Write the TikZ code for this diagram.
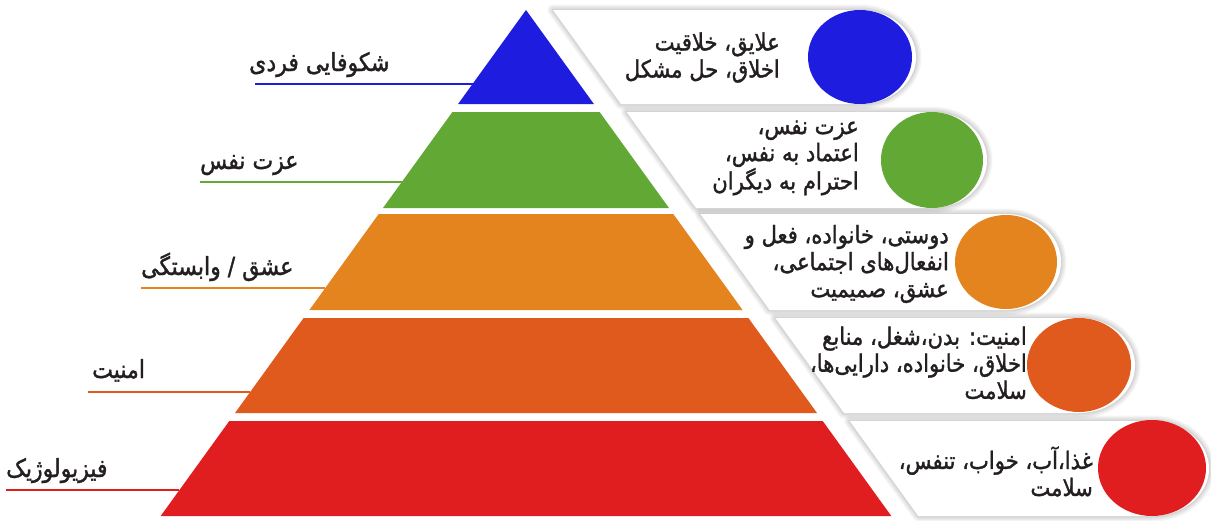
\documentclass[tikz,border=0pt]{standalone}
\usepackage{fontspec}
\TeXXeTstate=1
\newfontfamily\arabicfont[Script=Arabic,FakeBold=1.4,FakeStretch=0.88]{DejaVu Sans}

\definecolor{lvlblue}{RGB}{30,28,222}
\definecolor{lvlgreen}{RGB}{98,168,52}
\definecolor{lvlorange}{RGB}{227,132,31}
\definecolor{lvlrust}{RGB}{224,90,30}
\definecolor{lvlred}{RGB}{224,30,32}
\definecolor{ink}{RGB}{35,31,32}

\begin{document}
\begin{tikzpicture}[x=1pt,y=-1pt,
  softedge/.style={draw=black, draw opacity=0.045, line join=round, line width=#1},
  panel/.style={fill=white,
      preaction={softedge=11pt}, preaction={softedge=8pt},
      preaction={softedge=5pt}, preaction={softedge=2.5pt}},
  lead/.style={line width=2.6pt},
  lbl/.style={font=\arabicfont\fontsize{25}{28}\selectfont, text=ink,
      inner sep=0pt, anchor=base west},
  info/.style={font=\arabicfont\fontsize{24}{27}\selectfont, text=ink,
      align=right, anchor=east, inner sep=0pt}]

% canvas
\useasboundingbox (0,0) rectangle (1211,520);
\fill[white] (0,0) rectangle (1211,520);

% ---- white side panels, slanted along the pyramid, rounded round the dot ----
\path[panel] (553,10)    -- (860,10)
  arc[start angle=90, end angle=-90, x radius=56pt, y radius=47pt] -- (621,104) -- cycle;
\path[panel] (626.6,112) -- (932,112)
  arc[start angle=90, end angle=-90, x radius=55pt, y radius=48pt] -- (696,208) -- cycle;
\path[panel] (700.3,214) -- (1006,214)
  arc[start angle=90, end angle=-90, x radius=55pt, y radius=48pt] -- (769.6,310) -- cycle;
\path[panel] (775.4,318) -- (1079,318)
  arc[start angle=90, end angle=-90, x radius=56pt, y radius=47.5pt] -- (844,413) -- cycle;
\path[panel] (849.7,421) -- (1152,421)
  arc[start angle=90, end angle=-90, x radius=57pt, y radius=47.5pt] -- (918.3,516) -- cycle;

% ---- colour dots at the panel ends ----
\fill[lvlblue]   (860,57)   ellipse [x radius=52pt, y radius=47pt];
\fill[lvlgreen]  (932,160)  ellipse [x radius=51pt, y radius=48pt];
\fill[lvlorange] (1006,262) ellipse [x radius=51pt, y radius=47pt];
\fill[lvlrust]   (1079,365) ellipse [x radius=52pt, y radius=47pt];
\fill[lvlred]    (1152,468) ellipse [x radius=54pt, y radius=48pt];

% ---- panel texts ----
\node[info] (i1) at (780,57.5)
  {\beginR علایق، خلاقیت\endR\\ \beginR اخلاق، حل مشکل\endR};
\node[info] (i2) at (859,158)
  {\beginR عزت نفس،\endR\\ \beginR اعتماد به نفس،\endR\\ \beginR احترام به دیگران\endR};
\node[info] (i3) at (949,264)
  {\beginR دوستی، خانواده، فعل و\endR\\ \beginR انفعال‌های اجتماعی،\endR\\ \beginR عشق، صمیمیت\endR};
\node[info] (i4) at (1027,363)
  {\beginR امنیت: بدن،شغل، منابع\endR\\ \beginR اخلاق، خانواده، دارایی‌ها،\endR\\ \beginR سلامت\endR};
\node[info] (i5) at (1093,471.5)
  {\beginR غذا،آب، خواب، تنفس،\endR\\ \beginR سلامت\endR};

% ---- pyramid levels ----
\fill[lvlblue]   (526,10)    -- (593.9,104) -- (458.1,104) -- cycle;
\fill[lvlgreen]  (452.4,112) -- (599.6,112) -- (669,208)   -- (383,208)   -- cycle;
\fill[lvlorange] (378.7,214) -- (673.3,214) -- (742.6,310) -- (309.4,310) -- cycle;
\fill[lvlrust]   (303.6,318) -- (748.4,318) -- (817,413)   -- (235,413)   -- cycle;
\fill[lvlred]    (229.3,421) -- (822.7,421) -- (891.3,516) -- (160.7,516) -- cycle;

% ---- leader lines ----
\coordinate (a1) at (255,84);   \coordinate (b1) at (472.6,84);
\coordinate (a2) at (200,182);  \coordinate (b2) at (401.8,182);
\coordinate (a3) at (141,288);  \coordinate (b3) at (325.3,288);
\coordinate (a4) at (88,392);   \coordinate (b4) at (250.2,392);
\coordinate (a5) at (6,490);    \coordinate (b5) at (179.4,490);
\draw[lead, lvlblue]   (a1) -- (b1);
\draw[lead, lvlgreen]  (a2) -- (b2);
\draw[lead, lvlorange] (a3) -- (b3);
\draw[lead, lvlrust]   (a4) -- (b4);
\draw[lead, lvlred]    (a5) -- (b5);

% ---- level names ----
\node[lbl] (n1) at (249,71)  {\beginR شکوفایی فردی\endR};
\node[lbl] (n2) at (200,169) {\beginR عزت نفس\endR};
\node[lbl] (n3) at (141,275) {\beginR عشق / وابستگی\endR};
\node[lbl] (n4) at (92,378)  {\beginR امنیت\endR};
\node[lbl] (n5) at (6,477)   {\beginR فیزیولوژیک\endR};
\end{tikzpicture}
\end{document}
